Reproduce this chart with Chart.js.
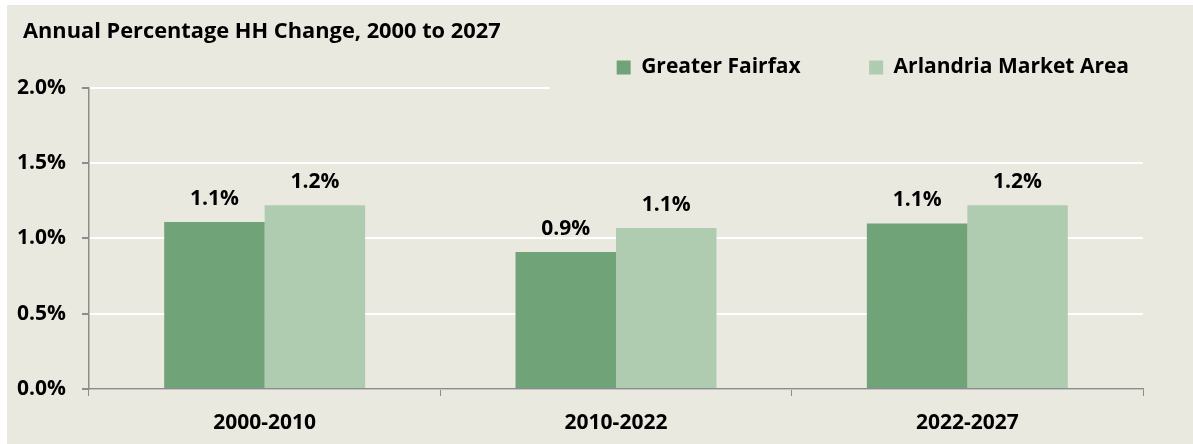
<!DOCTYPE html>
<html>
<head>
<meta charset="utf-8">
<script src="https://cdn.jsdelivr.net/npm/chart.js@4.4.0/dist/chart.umd.min.js"></script>
<style>
  html, body { margin: 0; padding: 0; background: #ffffff; }
  #wrap { position: absolute; left: 7px; top: 5px; width: 1186px; height: 439px; background: #eae9df; }
</style>
</head>
<body>
<div id="wrap"><canvas id="myChart" width="1186" height="439"></canvas></div>
<script>
var periods = ["2000-2010", "2010-2022", "2022-2027"];
var fairfax = [1.11, 0.91, 1.10];
var arlandria = [1.22, 1.07, 1.22];
var yTicks = [0, 0.5, 1.0, 1.5, 2.0];

var FONT = "'Open Sans'";
var gray = "#8c8c8c";

// value labels over the bars
var barLabels = {
  id: "barLabels",
  afterDatasetsDraw: function (chart) {
    var ctx = chart.ctx;
    ctx.save();
    ctx.font = "bold 21px " + FONT;
    ctx.fillStyle = "#000";
    ctx.textAlign = "center";
    ctx.textBaseline = "alphabetic";
    chart.data.datasets.forEach(function (ds, i) {
      chart.getDatasetMeta(i).data.forEach(function (bar, j) {
        ctx.fillText(ds.data[j].toFixed(1) + "%", bar.x, bar.y - 17);
      });
    });
    ctx.restore();
  }
};

// the legend box sits over the top gridline on the right,
// and the title is indented a little from the edge
var legendCover = {
  id: "legendCover",
  afterLayout: function (chart) {
    if (chart.titleBlock) chart.titleBlock.left = 16;
  },
  beforeDatasetsDraw: function (chart) {
    var a = chart.chartArea;
    var ctx = chart.ctx;
    ctx.save();
    ctx.fillStyle = "#eae9df";
    ctx.fillRect(a.left + (a.right - a.left) * 0.437, a.top - 3, a.right, 6);
    ctx.restore();
  }
};

new Chart("myChart", {
  type: "bar",
  data: {
    labels: periods,
    datasets: [{
      label: "Greater Fairfax",
      data: fairfax,
      backgroundColor: "#71a379",
      categoryPercentage: 0.572,
      barPercentage: 1.0
    }, {
      label: "Arlandria Market Area",
      data: arlandria,
      backgroundColor: "#afccb0",
      categoryPercentage: 0.572,
      barPercentage: 1.0
    }]
  },
  options: {
    responsive: false,
    animation: false,
    layout: { padding: { left: 0, right: 50, top: 0, bottom: 0 } },
    plugins: {
      title: {
        display: true,
        text: "Annual Percentage HH Change, 2000 to 2027",
        align: "start",
        color: "#000",
        font: { family: FONT, size: 21.8, weight: "bold" },
        padding: { top: 14, bottom: 3.3 }
      },
      legend: {
        align: "end",
        labels: {
          color: "#000",
          font: { family: FONT, size: 21, weight: "bold" },
          boxWidth: 14,
          boxHeight: 14,
          padding: 8.5,
          generateLabels: function (chart) {
            var items = Chart.defaults.plugins.legend.labels.generateLabels(chart);
            items[0].text = items[0].text + "           ";
            items[1].text = items[1].text + " ";
            items.forEach(function (it) { it.lineWidth = 0; });
            return items;
          }
        }
      },
      tooltip: { enabled: false }
    },
    scales: {
      x: {
        afterFit: function (axis) { axis.height = 55; },
        grid: { display: true, drawOnChartArea: false, drawTicks: true, tickLength: 7, tickColor: gray, offset: true },
        border: { color: gray, width: 1.5 },
        ticks: { color: "#000", padding: 14, font: { family: FONT, size: 21, weight: "bold" } }
      },
      y: {
        min: 0,
        max: 2,
        afterFit: function (axis) { axis.width = 82; },
        afterBuildTicks: function (axis) {
          axis.ticks = yTicks.map(function (v) { return { value: v }; });
        },
        grid: { color: "#ffffff", lineWidth: 2, tickLength: 7, tickColor: gray },
        border: { color: gray, width: 1.5 },
        ticks: {
          color: "#000",
          padding: 16,
          font: { family: FONT, size: 21, weight: "bold" },
          callback: function (v) { return v.toFixed(1) + "%"; }
        }
      }
    }
  },
  plugins: [barLabels, legendCover]
});
</script>
</body>
</html>
